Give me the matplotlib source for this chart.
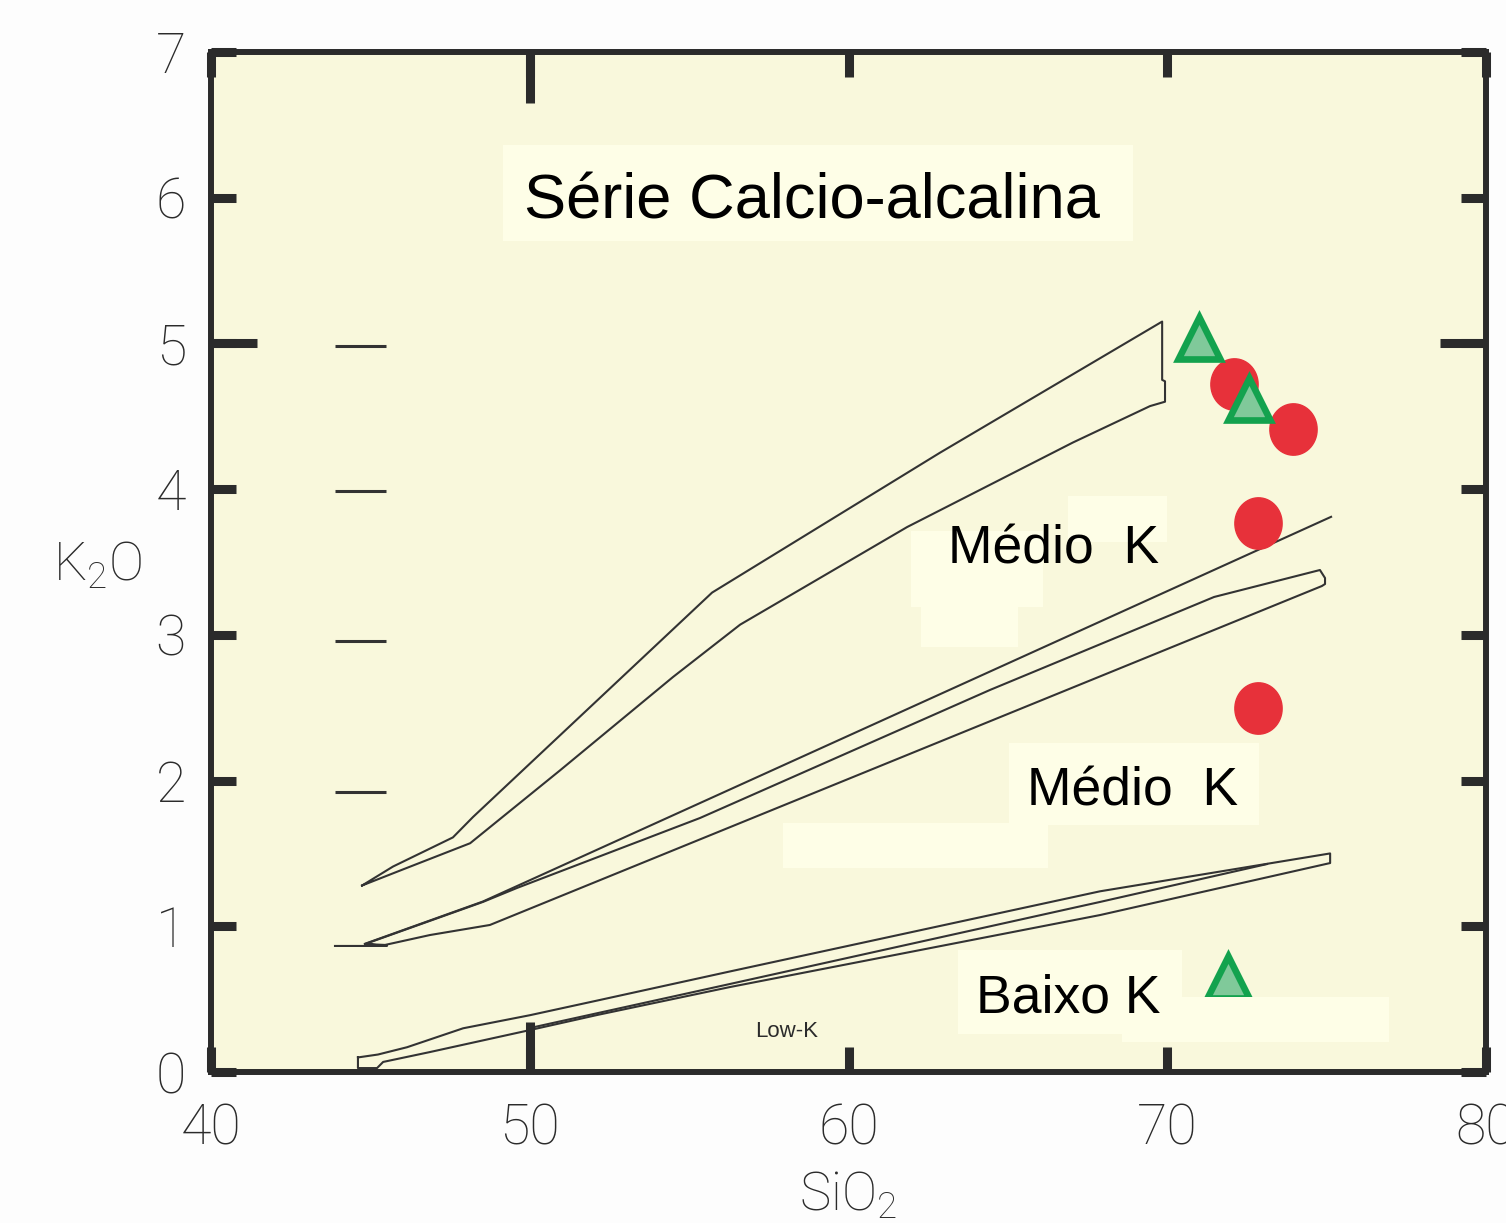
import numpy as np
import matplotlib
matplotlib.use('Agg')
import matplotlib.pyplot as plt
import matplotlib.transforms as mtransforms
from matplotlib.patches import Rectangle
from matplotlib.path import Path

plt.rcParams['font.family'] = ['Liberation Sans', 'DejaVu Sans']
plt.rcParams['mathtext.default'] = 'regular'

# ---- dados (SiO2 %, K2O %) ----
# faixa limite alto-K / shoshonitica (poligono fechado)
sho_x = [44.74, 45.71, 47.59, 48.22, 55.72, 62.87, 69.84, 69.84, 69.93, 69.93,
         69.46, 67.04, 61.84, 56.60, 54.49, 50.95, 48.13, 46.02, 44.74]
sho_y = [1.28, 1.41, 1.61, 1.75, 3.29, 4.25, 5.15, 4.75, 4.74, 4.60,
         4.57, 4.32, 3.74, 3.07, 2.71, 2.07, 1.57, 1.39, 1.28]

# linha limite medio-K / alto-K
hk_x = [44.83, 48.53, 75.14]
hk_y = [0.88, 1.17, 3.81]

# faixa medio-K / alto-K (poligono)
mk_x = [43.89, 45.52, 44.83, 48.53, 49.60, 55.34, 64.44, 71.47, 74.79, 74.95,
        74.95, 74.85, 48.75, 46.87, 45.46, 44.83]
mk_y = [0.865, 0.865, 0.878, 1.167, 1.263, 1.743, 2.622, 3.260, 3.445, 3.390,
        3.349, 3.335, 1.009, 0.940, 0.872, 0.878]

# faixa baixo-K / medio-K (poligono)
lk_x = [44.61, 45.24, 46.15, 47.91, 50.01, 52.11, 56.28, 67.89, 75.11, 75.11,
        67.89, 56.28, 52.11, 50.01, 46.87, 45.40, 45.21, 44.61, 44.61]
lk_y = [0.10, 0.12, 0.17, 0.30, 0.39, 0.49, 0.69, 1.24, 1.50, 1.434,
        1.077, 0.583, 0.391, 0.288, 0.137, 0.069, 0.027, 0.027, 0.10]
lk_mid_x = [50.01, 56.28, 67.89, 73.13]
lk_mid_y = [0.302, 0.604, 1.167, 1.427]

# tracos soltos a esquerda
dash_y = [4.98, 3.99, 2.96, 1.92]

# amostras
circ_x = [72.09, 73.95, 72.85, 72.85]
circ_y = [4.72, 4.41, 3.77, 2.50]
tri_x = [71.00, 72.56, 71.90]
tri_y = [5.04, 4.62, 0.65]

xticks = [40, 50, 60, 70, 80]
yticks = [0, 1, 2, 3, 4, 5, 6, 7]

# ---- figura ----
W, H = 1506, 1223
fig = plt.figure(figsize=(W / 100, H / 100), dpi=100, facecolor='#FDFDFD')
ax = fig.add_axes([211 / W, 1 - 1072 / H, 1275 / W, 1020 / H])
ax.set_facecolor('#F9F8DC')
ax.set_xlim(40, 80)
ax.set_ylim(0, 7)

lc = '#333333'
ax.plot(sho_x, sho_y, color=lc, lw=1.5, zorder=2)
ax.plot(hk_x, hk_y, color=lc, lw=1.5, zorder=2)
ax.plot(mk_x, mk_y, color=lc, lw=1.5, zorder=2)
ax.plot(lk_x, lk_y, color=lc, lw=1.5, zorder=2)
ax.plot(lk_mid_x, lk_mid_y, color=lc, lw=1.5, zorder=2)
ax.hlines(dash_y, 43.89, 45.49, color=lc, lw=2.2, zorder=2)

# marcadores
t = np.linspace(0, 2 * np.pi, 60)
ell = Path(np.column_stack([0.92 * np.cos(t), np.sin(t)]))
ax.plot(circ_x, circ_y, ls='none', marker=ell, ms=37, color='#E7313A',
        mec='#E7313A', zorder=3)
ax.plot(tri_x, tri_y, ls='none', marker='^', ms=30, mfc='#80C99A',
        mec='#13A24E', mew=4.8, zorder=3.5)

# manchas claras por tras dos rotulos
boxes = [(49.16, 5.70, 68.93, 6.36), (66.89, 3.64, 69.99, 3.95),
         (61.96, 3.19, 66.10, 3.71), (62.27, 2.92, 65.32, 3.19),
         (65.04, 1.695, 72.88, 2.258), (57.95, 1.40, 66.26, 1.709),
         (63.44, 0.261, 70.46, 0.837), (68.58, 0.206, 76.96, 0.515)]
for x0, y0, x1, y1 in boxes:
    ax.add_patch(Rectangle((x0, y0), x1 - x0, y1 - y0, facecolor='#FEFEE7',
                           edgecolor='none', zorder=4))

ax.text(49.82, 5.86, 'Série Calcio-alcalina', fontsize=45.5, ha='left',
        va='baseline', zorder=5)
ax.text(63.12, 3.49, 'Médio  K', fontsize=38.5, ha='left', va='baseline', zorder=5)
ax.text(65.60, 1.826, 'Médio  K', fontsize=38.5, ha='left', va='baseline', zorder=5)
ax.text(64.00, 0.405, 'Baixo K', fontsize=38.5, ha='left', va='baseline', zorder=5)
ax.text(57.07, 0.24, 'Low-K', fontsize=16, color='#2B2B2B', ha='left',
        va='baseline', zorder=5)

# eixos
sc = '#2B2B2B'
for s in ax.spines.values():
    s.set_linewidth(4.3)
    s.set_color(sc)
    s.set_zorder(6)
ax.set_xticks(xticks)
ax.set_yticks(yticks)
ax.tick_params(direction='in', length=18, width=6.5, top=True, right=True,
               labelsize=40, colors=sc)
ax.tick_params(axis='x', pad=22)
ax.tick_params(axis='y', pad=18)
for lab in ax.get_xticklabels() + ax.get_yticklabels():
    lab.set_family(['Roboto', 'DejaVu Sans'])
    lab.set_weight('light')

ty = mtransforms.blended_transform_factory(ax.transAxes, ax.transData)
tx = mtransforms.blended_transform_factory(ax.transData, ax.transAxes)
kw = dict(color=sc, lw=6.5, solid_capstyle='butt', zorder=6, clip_on=False)
ax.plot([0, 0.036], [5, 5], transform=ty, **kw)
ax.plot([0.964, 1], [5, 5], transform=ty, **kw)
ax.plot([50, 50], [0.95, 1], transform=tx, **kw)
ax.plot([50, 50], [0, 0.049], transform=tx, **kw)

fig.text(98 / W, 1 - 566 / H, 'K$_2$O', fontsize=38, color=sc, ha='center',
         va='center', family=['Roboto', 'DejaVu Sans'], weight='light')
fig.text(848 / W, 1 - 1196 / H, 'SiO$_2$', fontsize=38, color=sc, ha='center',
         va='center', family=['Roboto', 'DejaVu Sans'], weight='light')

fig.savefig('out.png', dpi=100, facecolor=fig.get_facecolor())
plt.close(fig)
